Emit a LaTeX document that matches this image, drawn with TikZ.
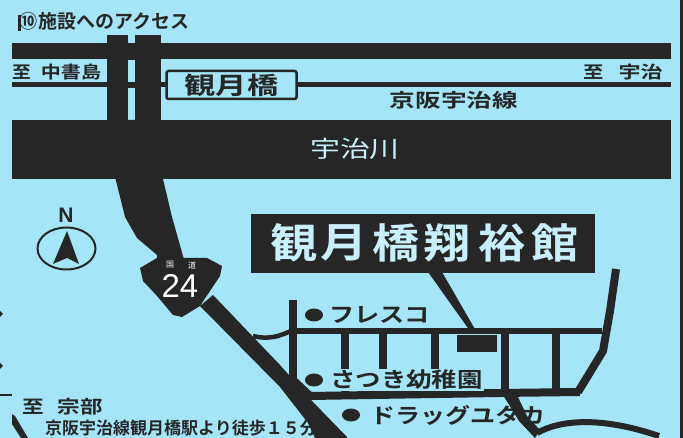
\documentclass[tikz,border=0pt]{standalone}
\usepackage{fontspec}
\usepackage{graphicx}
\usetikzlibrary{shapes.geometric}
\newfontfamily\jp{Noto Sans CJK JP}
\newfontfamily\jpb{Noto Sans CJK JP Bold}
\newfontfamily\latinb{Liberation Sans}
\newcommand\stretchx[2]{\scalebox{#1}[1]{#2}}
\newcommand\fs[1]{\fontsize{#1}{#1}\selectfont}
\definecolor{sky}{HTML}{A4E6F8}
\definecolor{ink}{HTML}{262626}
\tikzset{
  lbl/.style={inner sep=0pt,text=ink,font=\jpb},
  street/.style={draw=ink,line width=8pt,line cap=butt},
  dotmark/.style={ellipse,fill=ink,minimum width=18pt,minimum height=13pt,inner sep=0pt},
}
\begin{document}
\begin{tikzpicture}[x=1pt,y=-1pt]
\useasboundingbox (0,0) rectangle (683,438);
\fill[sky] (0,0) rectangle (683,438);
\fill[ink] (679.5,0) rectangle (683,438);
% upper road, railway and river
\fill[ink] (12,43) rectangle (671,59);
\fill[ink] (12,82.5) rectangle (671,87.5);
\fill[ink] (12,120) rectangle (671,179);
% road, two carriageways
\fill[ink] (107,35) rectangle (128,125);
\fill[ink] (135,35) rectangle (161,125);
\fill[ink] (128,43) rectangle (135,60);
\fill[ink] (128,83) rectangle (135,88);
\fill[ink] (107,120) -- (110,150) -- (115,177) -- (125,217) -- (137,238) -- (157,255) -- (157,262) -- (185,262) -- (183,256) -- (172,217) -- (163,179) -- (161,120) -- cycle;
% edge marks
\fill[ink] (0,311) -- (3,314) -- (0,317) -- cycle;
\fill[ink] (0,363) -- (3,366) -- (0,369) -- cycle;
\fill[ink] (0,394) rectangle (12,396);
\fill[ink] (12,414) -- (15,416) -- (28,438) -- (21,438) -- (12,424) -- cycle;
% texts
\node[lbl,font=\jpb\fs{19},anchor=west] (t1) at (18,21.5) {\rule[-2pt]{2.5pt}{16pt}\kern-1pt\stretchx{.95}{⑩}\kern1pt\stretchx{1}{施設へのアクセス}};
\node[lbl,font=\jpb\fs{18},anchor=west] (t2) at (22,407) {\stretchx{1.2}{至}\kern14pt\stretchx{1.25}{宗部}};
\node[lbl,font=\jpb\fs{17},anchor=west] (t3) at (45,428.5) {京阪宇治線観月橋駅より徒歩１５分};
\node[lbl,font=\jpb\fs{17},anchor=west] (t4) at (12,72) {\stretchx{1.1}{至}\kern10pt\stretchx{1.18}{中書島}};
\node[lbl,font=\jpb\fs{17},anchor=east] (t5) at (663,72) {\stretchx{1.2}{至}\kern15pt\stretchx{1.3}{宇治}};
\node[lbl,font=\jpb\fs{19}] (t6) at (454,100) {\stretchx{1.35}{京阪宇治線}};
\node[inner sep=0pt,text=sky!60!white,font=\jp\fs{23}] (t7) at (355,149) {\stretchx{1.3}{宇治川}};
% bridge
\node[draw=ink,fill=sky,line width=2.5pt,rounded corners=2pt,minimum width=130pt,minimum height=28pt,inner sep=0pt,text=ink,font=\jpb\fs{24}] (bridge) at (231.5,85) {\stretchx{1.3}{観月橋}};
% main road lower part
\fill[ink] (213,295) -- (280,365) -- (313,402) -- (347,437) -- (347,438) -- (315,438) -- (308,423) -- (280,387) -- (200,306) -- cycle;
% shield
\fill[ink] (140,268) -- (157,258) -- (207,258) -- (222,266) -- (220,276) -- (200,306) -- (182,317) -- (173,315) -- (157,296) -- (143,281) -- cycle;
\node[inner sep=0pt,text=white,font=\latinb\fs{33}] (r24) at (180,286) {24};
\node[inner sep=0pt,text=white,font=\jp\fs{8}] (koku) at (170,265) {国};
\node[inner sep=0pt,text=white,font=\jp\fs{8}] (do) at (192,265) {道};
% compass
\draw[ink,line width=2pt] (66.5,248.5) ellipse (29 and 21);
\fill[ink] (67,231) -- (53,264) -- (67,258) -- (79,264) -- cycle;
\node[inner sep=0pt,text=ink,font=\latinb\bfseries\fs{21}] (north) at (66,215) {N};
% title box and leader
\fill[ink] (428,272) -- (442,272) -- (476,331) -- (470,331) -- cycle;
\node[fill=ink,minimum width=344pt,minimum height=59pt,inner sep=0pt] (title) at (423,243.5) {};
\foreach \c/\px in {観/294,月/344,橋/396,翔/447,裕/502,館/555}
  \node[inner sep=0pt,text=sky!60!white,font=\jpb\fs{41}] at (\px,243) {\stretchx{1.15}{\c}};
% street grid
\draw[street] (293,300) -- (293,386);
\draw[street,line width=6pt] (293,331) -- (602,331);
\foreach \sx in {345,383,435,505,556}
  \draw[street] (\sx,331) -- (\sx,392);
\draw[street,line join=round] (293,380) -- (310,396) -- (500,393) -- (580,392);
\draw[street,line join=round] (616,269) -- (610,311) -- (603,351) -- (578,392);
\draw[ink,line width=4.5pt] (253,336) .. controls (270,340) and (280,336) .. (293,330);
\fill[ink] (457,335) rectangle (497,352);
% lower-right road
\fill[ink] (503,395) -- (517,395) -- (527,416) -- (540,430) -- (535,438) -- (519,421) -- cycle;
\draw[ink,line width=6pt] (537,433) .. controls (560,420) and (600,416) .. (659,436);
% labels
\node[dotmark] (d1) at (314,315) {};
\node[lbl,font=\jpb\fs{21},anchor=west] (f1) at (329,315) {\stretchx{1.2}{フレスコ}};
\node[dotmark] (d2) at (314,380) {};
\node[lbl,font=\jpb\fs{21},anchor=west,fill=sky,inner sep=1pt] (f2) at (329,380) {\stretchx{1.21}{さつき幼稚園}};
\node[dotmark] (d3) at (351,415) {};
\node[lbl,font=\jpb\fs{21},anchor=west] (f3) at (370,415) {\stretchx{1.19}{ドラッグユタカ}};
\end{tikzpicture}
\end{document}
